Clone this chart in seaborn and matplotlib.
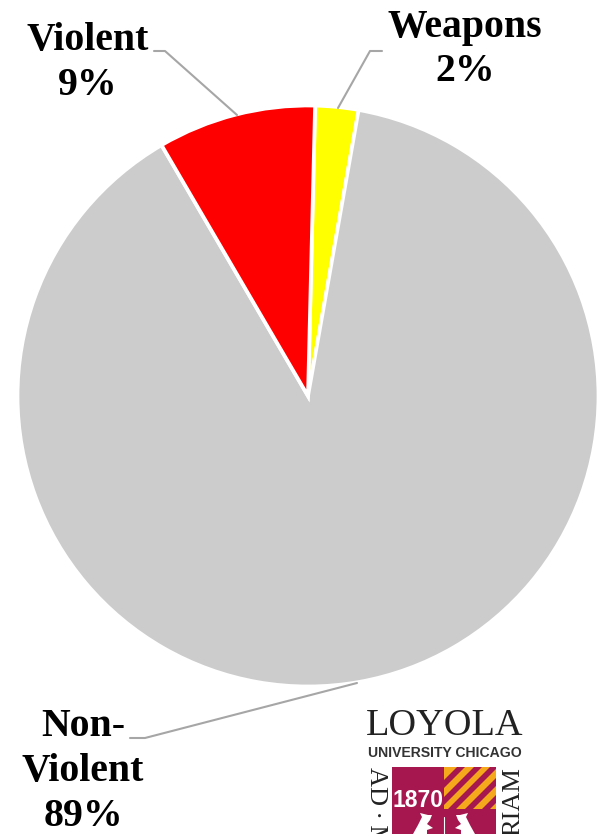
import numpy as np
import seaborn as sns
import matplotlib.pyplot as plt
from matplotlib.patches import Rectangle, Polygon

categories = ['Weapons', 'Non-Violent', 'Violent']
shares = [2.4, 88.8, 8.8]
colors = ['#ffff00', '#cccccc', '#ff0000']
W, H = 607, 834

sns.set_theme(style='white')
plt.rcParams['font.family'] = ['Liberation Serif', 'DejaVu Serif']

fig = plt.figure(figsize=(W / 100, H / 100), dpi=100, facecolor='white')

# --- Pie ---
cx, cy, r = 308, 396, 290.5
ax = fig.add_axes([(cx - r) / W, 1 - (cy + r) / H, 2 * r / W, 2 * r / H])
ax.pie(shares, colors=colors, startangle=88.6, counterclock=False, radius=1,
       wedgeprops={'edgecolor': 'white', 'linewidth': 2.7})
ax.set_xlim(-1, 1)
ax.set_ylim(-1, 1)

# --- Overlay in pixel coords ---
ov = fig.add_axes([0, 0, 1, 1], facecolor='none')
ov.set_xlim(0, W)
ov.set_ylim(H, 0)
ov.axis('off')

leaders = [
    ([154, 165, 237], [51, 51, 115]),
    ([382, 370, 338], [51, 51, 108]),
    ([130, 145, 357], [738, 738, 683]),
]
for xs, ys in leaders:
    ov.plot(xs, ys, color='#a6a6a6', lw=1.5)

labels = [
    (88, 40, 'Violent'), (88, 85, '9%'),
    (465, 27, 'Weapons'), (465, 71, '2%'),
    (83, 726, 'Non-'), (83, 772, 'Violent'), (83, 817, '89%'),
]
for x, y, s in labels:
    ov.text(x, y, s, ha='center', va='center', fontsize=28.6, fontweight='bold', color='black')

# --- Logo ---
maroon = '#a6174f'
gold = '#f5a81c'
ov.text(445, 726, 'LOYOLA', ha='center', va='center', fontsize=27.5, color='#222222')
ov.text(445, 753, 'UNIVERSITY CHICAGO', ha='center', va='center', fontsize=10.1,
        fontweight='bold', family=['Liberation Sans'], color='#333333')
ov.text(376, 767, 'AD\u2009·\u2009M', ha='center', va='top', rotation=-90, fontsize=19, color='#222222')
ov.text(513, 767, 'RIAM', ha='center', va='top', rotation=90, fontsize=19, color='#222222')

ov.add_patch(Rectangle((392, 767), 104, 67, color=maroon, lw=0))
ov.add_patch(Rectangle((444, 767), 52, 42, color=gold, lw=0))
stripes = [
    [(444, 780), (457, 767), (465, 767), (444, 788)],
    [(444, 797), (474, 767), (482, 767), (444, 805)],
    [(448, 809), (490, 767), (496, 767), (496, 769), (456, 809)],
    [(465, 809), (496, 778), (496, 786), (473, 809)],
    [(482, 809), (496, 795), (496, 803), (490, 809)],
]
for s in stripes:
    ov.add_patch(Polygon(s, color=maroon, lw=0))
ov.text(418.5, 800.5, '1870', ha='center', va='center', fontsize=16.5, fontweight='bold',
        family=['Liberation Sans'], color='white')

wolf = np.array([(413, 834), (418, 825), (422, 817), (420, 813), (428, 815), (432, 815),
                 (430, 820), (427, 824), (433, 828), (427, 830), (427, 834)])
ov.add_patch(Polygon(wolf, color='white', lw=0))
mirrored = wolf.copy()
mirrored[:, 0] = 2 * 444 - mirrored[:, 0]
ov.add_patch(Polygon(mirrored, color='white', lw=0))
ov.plot([444, 444], [817, 834], color='white', lw=0.8)

fig.savefig('out.png', dpi=100)
